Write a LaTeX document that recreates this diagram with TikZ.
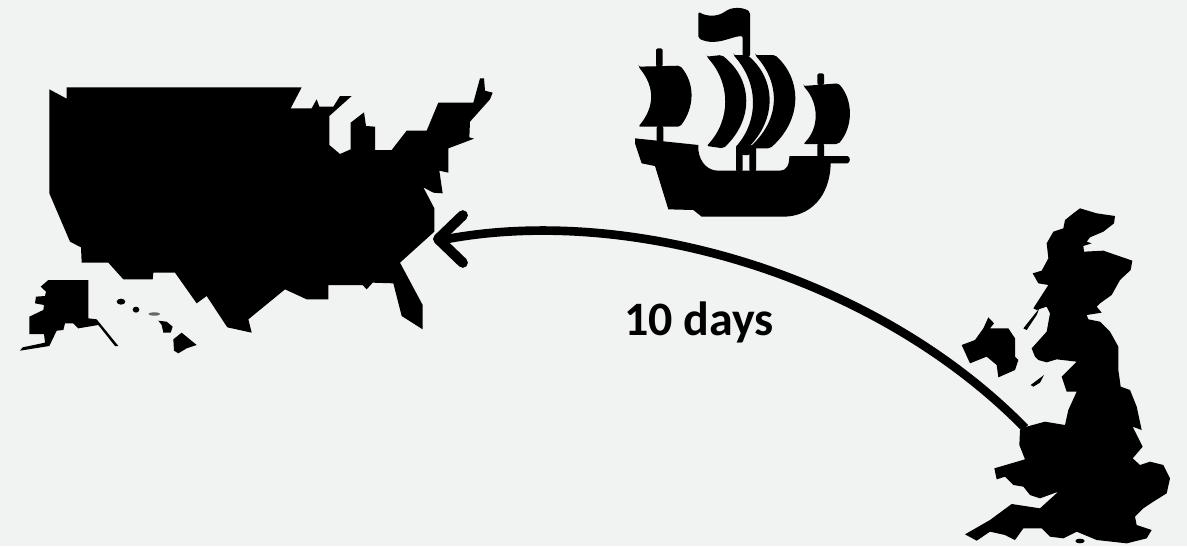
\documentclass[tikz,border=0pt]{standalone}
\usepackage{fontspec}
\usepackage{xcolor}
\usepackage{tikz}
\usetikzlibrary{arrows.meta}
\setsansfont{Carlito}
\definecolor{paper}{HTML}{F1F3F2}

\begin{document}
\begin{tikzpicture}[
    x=0.75pt,y=-0.75pt,
    font=\sffamily,
    shape fill/.style={fill=black,draw=none},
    spar/.style={fill=black,draw=none,rounded corners=1.5pt},
    route/.style={-{Straight Barb[length=6.5mm,width=12.5mm,line width=2.7mm,round]},draw=black,line width=6.5pt},
    label text/.style={font=\sffamily\bfseries\fontsize{36}{40}\selectfont,text=black}
  ]
    \fill[paper] (0,0) rectangle (1187,546);
    \useasboundingbox (0,0) rectangle (1187,546);

    % USA, read off at three times size
    \begin{scope}[shift={(0,60)},x=0.25pt,y=-0.25pt]
      \fill[shape fill] (148,88)--(200,116)--(200,82)--(905,82)--(872,145)--(935,145)--(950,118)--(958,140)--(1000,140)
        --(1020,108)--(1055,108)--(988,168)--(988,255)--(1020,282)--(1052,268)--(1052,188)--(1092,157)--(1098,198)
        --(1125,200)--(1125,270)--(1175,270)--(1220,212)--(1280,212)--(1315,128)--(1420,128)--(1440,55)--(1452,55)
        --(1455,92)--(1478,98)--(1470,118)--(1410,185)--(1408,232)--(1422,236)--(1345,265)--(1345,338)--(1318,332)
        --(1328,400)--(1300,398)--(1270,382)--(1303,445)--(1303,515)--(1200,608)--(1268,735)--(1268,808)--(1205,768)
        --(1180,670)--(1118,668)--(1100,688)--(1088,675)--(985,675)--(985,718)--(920,718)--(855,688)--(745,778)
        --(755,818)--(682,802)--(620,708)--(590,730)--(525,638)--(460,638)--(458,658)--(370,658)--(325,608)--(245,608)
        --(243,562)--(210,545)--(148,400)--cycle;
      \fill[shape fill] (145,660)--(265,660)--(265,775)--(290,778)--(355,858)--(345,858)--(295,795)--(235,805)--(220,790)
        --(195,790)--(190,810)--(170,812)--(148,858)--(60,872)--(68,862)--(135,848)--(132,822)--(88,822)--(88,770)
        --(130,750)--(132,735)--(105,730)--(108,710)--(135,708)--(138,695)--(122,680)--cycle;
      \fill[shape fill] (363,725) ellipse [x radius=13,y radius=9];
      \fill[shape fill] (408,749) ellipse [x radius=10,y radius=9];
      \fill[black!60] (463,762) ellipse [x radius=18,y radius=5];
      \fill[shape fill] (475,782)--(500,785)--(518,800)--(512,818)--(490,818)--(485,795)--cycle;
      \fill[shape fill] (545,818)--(590,855)--(560,865)--(535,880)--(522,872)--(520,838)--cycle;
    \end{scope}

    % ship
    \begin{scope}[shift={(610,0)},x=0.25pt,y=-0.25pt]
      \fill[spar] (265,35) .. controls (290,50) and (320,50) .. (345,35) .. controls (365,22) and (395,20) .. (420,35)
        --(420,170)--(398,170)--(398,108) .. controls (360,110) and (320,140) .. (265,115) --cycle;
      \fill[spar] (85,200)--(210,197) .. controls (255,250) and (255,320) .. (210,380)--(85,380) .. controls (135,320) and (135,260) .. cycle;
      \fill[spar] (138,145)--(158,145)--(158,200)--(138,200)--cycle;
      \fill[spar] (140,378)--(160,378)--(160,430)--(140,430)--cycle;
      \fill[spar] (290,170)--(335,165) .. controls (431,240) and (431,360) .. (340,445)--(290,438) .. controls (363,360) and (363,250) .. cycle;
      \fill[spar] (370,165)--(412,165) .. controls (500,240) and (500,360) .. (410,447)--(378,440) .. controls (446,360) and (446,250) .. cycle;
      \fill[spar] (435,165)--(495,165) .. controls (577,240) and (577,360) .. (480,445)--(415,445) .. controls (512,360) and (512,250) .. cycle;
      \fill[spar] (378,435)--(398,435)--(398,515)--(378,515)--cycle;
      \fill[spar] (418,435)--(438,435)--(438,515)--(418,515)--cycle;
      \fill[spar] (395,435)--(420,435)--(420,465)--(395,465)--cycle;
      \fill[spar] (580,258)--(685,250) .. controls (730,300) and (730,380) .. (685,432)--(580,432) .. controls (628,385) and (628,310) .. cycle;
      \fill[spar] (622,220)--(642,220)--(642,255)--(622,255)--cycle;
      \fill[spar] (622,430)--(642,430)--(642,475)--(622,475)--cycle;
      \fill[shape fill] (75,415)--(265,435)--(265,450) .. controls (270,490) and (295,512) .. (325,512)--(510,512)
        .. controls (530,512) and (538,495) .. (538,468)--(712,468) .. controls (722,470) and (722,488) .. (712,490)--(662,490)
        .. controls (660,590) and (600,650) .. (520,650)--(275,650)--(250,630)--(175,628)--(135,498)--(95,490)--(75,430)--cycle;
    \end{scope}

    % Britain and Ireland
    \begin{scope}[shift={(940,200)},x=0.25pt,y=-0.25pt]
      \fill[shape fill] (400,40)--(420,25)--(470,40)--(525,48)--(522,70)--(490,95)--(450,112)--(440,125)--(455,130)--(430,138)
        --(432,155)--(490,152)--(577,182)--(572,210)--(540,240)--(515,285)--(480,310)--(470,320)--(485,338)--(440,345)
        --(445,358)--(480,365)--(510,395)--(535,440)--(535,510)--(542,560)--(570,570)--(590,620)--(605,690)--(578,680)
        --(608,740)--(578,775)--(600,795)--(630,785)--(670,795)--(690,835)--(680,880)--(640,905)--(610,925)--(585,950)
        --(590,975)--(635,990)--(620,1015)--(560,1030)--(470,1020)--(410,995)--(370,1015)--(330,1010)--(305,985)--(250,985)
        --(225,1020)--(195,1005)--(150,995)--(110,1022)--(75,1003)--(150,960)--(215,912)--(300,925)--(355,875)--(300,895)
        --(270,885)--(250,860)--(220,855)--(195,830)--(170,838)--(163,805)--(255,778)--(238,735)--(240,690)--(260,680)
        --(315,665)--(375,675)--(385,630)--(410,575)--(380,575)--(365,530)--(410,485)--(350,478)--(320,487)--(295,480)
        --(285,470)--(275,445)--(320,395)--(330,340)--(320,320)--(290,330)--(280,325)--(325,255)--(295,250)--(278,220)
        --(305,212)--(325,175)--(320,130)--(340,95)--(370,85)--(375,60)--cycle;
      \fill[shape fill] (250,385)--(298,325)--(290,345)--(260,390)--cycle;
      \fill[shape fill] (145,352)--(162,370)--(150,385)--(205,385)--(225,415)--(225,470)--(235,480)--(225,510)--(175,532)
        --(170,495)--(140,470)--(90,490)--(65,435)--(105,420)--(130,385)--cycle;
      \fill[shape fill] (272,555)--(312,525)--(300,548)--(280,560)--cycle;
      \fill[shape fill] (420,1023) ellipse [x radius=14,y radius=7];
    \end{scope}

    \coordinate (britain) at (1025,428);
    \coordinate (bend) at (447,239);
    \coordinate (america) at (433,239);
    \draw[route] (britain) .. controls (875,275) and (630,205) .. (bend) -- (america);

    \node[label text] (days) at (699,322) {10 days};
  \end{tikzpicture}
\end{document}
